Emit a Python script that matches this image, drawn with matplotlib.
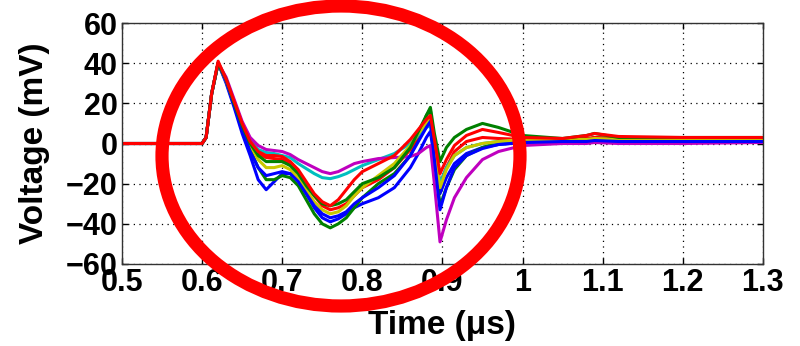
import matplotlib
matplotlib.use("Agg")
import matplotlib.pyplot as plt
from matplotlib.patches import Ellipse

# time axis (microseconds) shared by all traces
time_us = [0.50, 0.55, 0.60, 0.605, 0.612, 0.62, 0.63, 0.64, 0.65, 0.66, 0.67, 0.68, 0.69,
           0.70, 0.71, 0.72, 0.73, 0.74, 0.75, 0.76, 0.77, 0.78, 0.79, 0.80, 0.82, 0.84,
           0.86, 0.87, 0.88, 0.885, 0.89, 0.897, 0.905, 0.915, 0.93, 0.95, 0.97, 1.00,
           1.05, 1.08, 1.09, 1.12, 1.20, 1.30]

# voltage traces (mV), one per recording
v_blue = [0, 0, 0, 3, 25, 40, 30, 18, 5, -6, -18, -23, -19,
          -15, -15, -18, -25, -32, -37, -39, -37.5, -35, -32, -30, -27, -22,
          -12, -5, 3, 6, -8, -25, -17, -10, -5, -2, -0.5, 0.5,
          1, 1, 1.5, 1, 1, 1.5]
v_green = [0, 0, 0, 3, 25, 40, 31, 20, 8, -3, -12, -18, -18,
           -16, -17, -21, -28, -35, -40, -42, -40, -37, -32, -27, -20, -15,
           -6, 3, 14, 17, -5, -31, -22, -13, -6, -2, 0.5, 1.5,
           2, 2, 3, 2, 2, 2]
v_red = [0, 0, 0, 3, 25, 40, 32, 21, 10, 1, -5, -7, -7.5,
         -8, -10, -14, -20, -26, -31, -33, -32, -30, -26, -22, -18, -12,
         -3, 4, 11, 13, -2, -20, -12, -4, 1, 3, 2.5, 2,
         2, 2.5, 3, 2.5, 2.5, 2.5]
v_cyan = [0, 0, 0, 3, 25, 40, 32, 21, 10, 2, -3, -4.5, -5,
          -6, -7, -10, -12.5, -15, -17, -17.5, -16.5, -15, -13, -11, -8, -5,
          0, 4, 8, 9, -3, -20, -12, -6, -2, 0, 1, 1.5,
          1.5, 1.5, 2, 1.5, 1.5, 1.5]
v_magenta = [0, 0, 0, 3, 25, 40, 33, 22, 11, 3, -1, -3, -3.5,
             -4, -5.5, -8, -10, -12, -14, -15, -14, -12, -10, -9, -7.5, -7,
             -6.5, -5, -2, -1, -20, -49, -38, -27, -17, -8, -4, -1,
             0, 0, 0.5, 0, 0, 0.5]
v_olive = [0, 0, 0, 3, 25, 40, 31, 20, 9, -1, -8, -12, -12,
           -11, -13, -17, -23, -29, -33, -35, -34, -31, -26, -22, -16, -10,
           -1, 5, 10, 12, -3, -22, -13, -6, -2, 0, 1, 2,
           2, 2, 2.5, 2, 2, 2]
v_blue2 = [0, 0, 0, 3, 25, 40, 31, 19, 7, -4, -12, -16, -15,
           -14, -15, -19, -25, -31, -35, -37, -36, -34, -30, -27, -22, -16,
           -6, 1, 8, 11, -8, -33, -22, -12, -6, -2.5, -0.5, 0.5,
           1, 1, 1.5, 1, 1, 1]
v_green2 = [0, 0, 0, 3, 25, 40, 32, 20, 9, 0, -6, -9, -9,
            -9, -11, -15, -21, -26, -30, -31, -30, -28, -24, -20, -17, -12,
            -2, 6, 14, 18, 5, -9, -2, 3, 7, 10, 8, 4,
            2.5, 4, 5, 3, 3, 3]
v_red2 = [0, 0, 0, 3, 25, 41, 32, 21, 10, 1, -4, -6, -6,
          -6.5, -9, -13, -19, -25, -29, -31, -28, -23, -18, -14, -10, -6,
          2, 7, 12, 14, 2, -15, -8, -1, 4, 7, 5.5, 3,
          2.5, 4, 5, 3.5, 3, 3]

traces = [v_blue, v_green, v_red, v_cyan, v_magenta, v_olive, v_blue2, v_green2, v_red2]
colors = ['#0000ff', '#008000', '#ff0000', '#00bfbf', '#bf00bf', '#c8c800',
          '#0000ff', '#008000', '#ff0000']

x_ticks = [0.5, 0.6, 0.7, 0.8, 0.9, 1.0, 1.1, 1.2, 1.3]
x_ticklabels = ['0.5', '0.6', '0.7', '0.8', '0.9', '1', '1.1', '1.2', '1.3']
y_ticks = [-60, -40, -20, 0, 20, 40, 60]

plt.rcParams['font.family'] = ['Liberation Sans', 'DejaVu Sans']
plt.rcParams['font.weight'] = 'bold'

fig = plt.figure(figsize=(8, 3.46), dpi=100)
ax = fig.add_axes([0.1525, 0.237, 0.801, 0.6965])

for v, c in zip(traces, colors):
    ax.plot(time_us, v, color=c, lw=2.2)

ax.set_xlim(0.5, 1.3)
ax.set_ylim(-60, 60)
ax.set_xticks(x_ticks)
ax.set_xticklabels(x_ticklabels)
ax.set_yticks(y_ticks)
ax.tick_params(direction='in', length=4, width=1, top=True, right=True,
               labelsize=22, pad=3)
for lab in ax.get_xticklabels() + ax.get_yticklabels():
    lab.set_fontweight('bold')
ax.grid(True, color='black', linestyle=(0, (1, 3.5)), lw=0.9)
for s in ax.spines.values():
    s.set_linewidth(1.0)
    s.set_color('#333333')

ax.set_xlabel('Time (μs)', fontsize=24, fontweight='bold')
ax.set_ylabel('Voltage (mV)', fontsize=24, fontweight='bold')
ax.xaxis.set_label_coords(0.5, -0.19)
ax.yaxis.set_label_coords(-0.112, 0.5)

# red ellipse drawn over the figure, in pixel coordinates
over = fig.add_axes([0, 0, 1, 1])
over.set_xlim(0, 800)
over.set_ylim(346, 0)
over.axis('off')
over.add_patch(Ellipse((341, 156), 358, 300, fill=False, ec='#ff0000', lw=9.5,
                       clip_on=False))

fig.savefig('out.png', dpi=100)
